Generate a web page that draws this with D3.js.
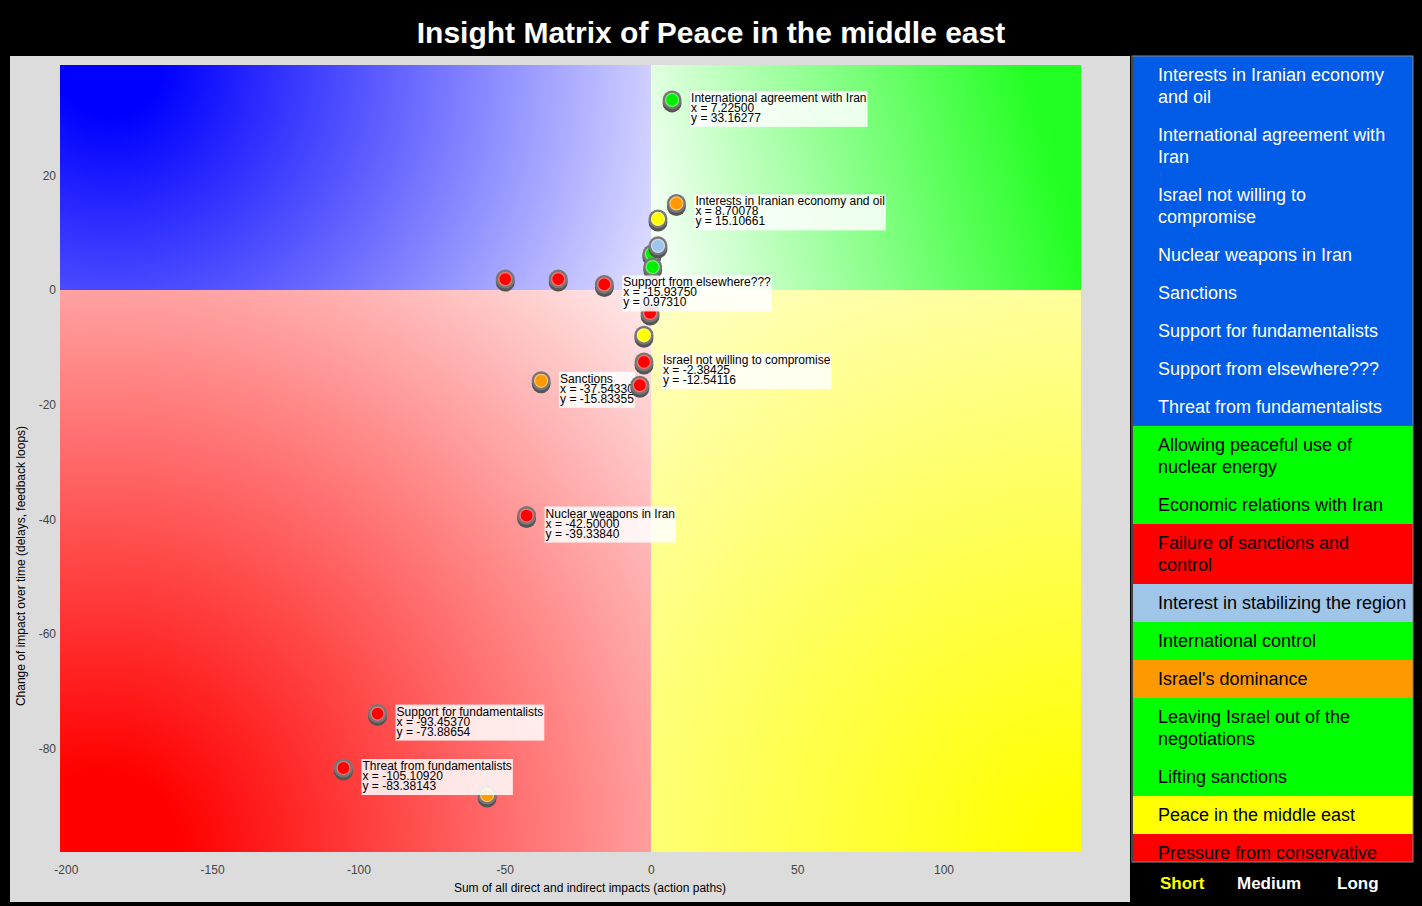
<!DOCTYPE html>
<html><head><meta charset="utf-8">
<script src="https://cdn.jsdelivr.net/npm/d3@7"></script>
<style>
html,body{margin:0;padding:0;background:#000;}
svg{display:block;}
text{font-family:"Liberation Sans",Arial,Helvetica,sans-serif;}
</style></head><body>
<svg id="chart" width="1422" height="906"></svg>
<script>
// ---------- data ----------
const title = "Insight Matrix of Peace in the middle east";
const xAxisLabel = "Sum of all direct and indirect impacts (action paths)";
const yAxisLabel = "Change of impact over time (delays, feedback loops)";
const xTicks = [-200, -150, -100, -50, 0, 50, 100];
const yTicks = [20, 0, -20, -40, -60, -80];
const xDomain = [-202, 147];
const yDomain = [-98.03, 39.25];

// points (draw order); label '' = no tooltip shown
const pointLabel = ["", "", "", "", "", "", "", "",
  "Threat from fundamentalists", "Support for fundamentalists", "Nuclear weapons in Iran",
  "Sanctions", "Israel not willing to compromise", "Support from elsewhere???",
  "", "Interests in Iranian economy and oil", "International agreement with Iran", ""];
const pointX = [-56.0, -49.8, -31.7, -0.3, -2.4, 0.3, 2.4, 0.6,
  -105.10920, -93.45370, -42.50000, -37.54330, -2.38425, -15.93750,
  2.4, 8.70078, 7.22500, -3.8];
const pointY = [-88.1, 1.9, 1.9, -4.0, -7.9, 6.3, 7.7, 4.0,
  -83.38143, -73.88654, -39.33840, -15.83355, -12.54116, 0.97310,
  12.4, 15.10661, 33.16277, -16.6];
const pointColor = ["#ff9900", "#ff0000", "#ff0000", "#ff0000", "#ffff00", "#00ee00", "#9fc5e8", "#00ee00",
  "#ff0000", "#ff0000", "#ff0000", "#ff9900", "#ff0000", "#ff0000",
  "#ffff00", "#ff9900", "#00ee00", "#ff0000"];

// legend
const legendItems = ["Interests in Iranian economy and oil", "International agreement with Iran",
  "Israel not willing to compromise", "Nuclear weapons in Iran", "Sanctions",
  "Support for fundamentalists", "Support from elsewhere???", "Threat from fundamentalists",
  "Allowing peaceful use of nuclear energy", "Economic relations with Iran",
  "Failure of sanctions and control", "Interest in stabilizing the region",
  "International control", "Israel's dominance", "Leaving Israel out of the negotiations",
  "Lifting sanctions", "Peace in the middle east", "Pressure from conservative forces"];
const legendColors = ["#005ce6", "#005ce6", "#005ce6", "#005ce6", "#005ce6", "#005ce6", "#005ce6", "#005ce6",
  "#00ff00", "#00ff00", "#ff0000", "#9fc5e8", "#00ff00", "#ff9900", "#00ff00", "#00ff00", "#ffff00", "#ff0000"];
const legendTextColors = ["#fff", "#fff", "#fff", "#fff", "#fff", "#fff", "#fff", "#fff",
  "#000", "#000", "#000", "#000", "#000", "#000", "#000", "#000", "#000", "#000"];
const horizons = ["Short", "Medium", "Long"];
const horizonColors = ["#ffff00", "#ffffff", "#ffffff"];

// ---------- drawing ----------
const svg = d3.select("#chart");
const W = 1422, H = 906;
svg.append("rect").attr("width", W).attr("height", H).attr("fill", "#000");

svg.append("text").attr("x", 711).attr("y", 43).attr("text-anchor", "middle")
  .attr("fill", "#fff").attr("font-weight", "bold").attr("font-size", 30)
  .text(title);

// grey panel
svg.append("rect").attr("x", 10).attr("y", 56).attr("width", 1120).attr("height", 846).attr("fill", "#dcdcdc");

const x = d3.scaleLinear().domain(xDomain).range([60, 1081]);
const y = d3.scaleLinear().domain(yDomain).range([852, 65]);

const defs = svg.append("defs");
function radial(id, cx, cy, r, stops) {
  const g = defs.append("radialGradient").attr("id", id).attr("gradientUnits", "userSpaceOnUse")
    .attr("cx", cx).attr("cy", cy).attr("fx", cx).attr("fy", cy).attr("r", r);
  stops.forEach(s => g.append("stop").attr("offset", s[0]).attr("stop-color", s[1]));
}
function linear(id, x1, y1, x2, y2, stops) {
  const g = defs.append("linearGradient").attr("id", id).attr("gradientUnits", "userSpaceOnUse")
    .attr("x1", x1).attr("y1", y1).attr("x2", x2).attr("y2", y2);
  stops.forEach(s => g.append("stop").attr("offset", s[0]).attr("stop-color", s[1]));
}
const x0 = x(0), y0 = y(0);
const xl = x(xDomain[0]), xr = x(xDomain[1]), yt = y(yDomain[1]), yb = y(yDomain[0]);
radial("gBlue", xl + 50, yt, 640, [[0, "#0000ff"], [0.08, "#0000ff"], [1, "#f8f8ff"]]);
linear("gGreen", xr - 20, yt + 40, x0, yt + 150, [[0, "#22ff22"], [0.05, "#22ff22"], [1, "#f4fff4"]]);
radial("gRed", xl + 40, yb, 810, [[0, "#ff0000"], [0.1, "#ff0000"], [1, "#fff4f4"]]);
radial("gYellow", xr, yb, 850, [[0, "#ffff00"], [0.05, "#ffff00"], [1, "#fffff4"]]);

const plot = svg.append("g");
plot.append("rect").attr("x", xl).attr("y", yt).attr("width", x0 - xl).attr("height", y0 - yt).attr("fill", "url(#gBlue)");
plot.append("rect").attr("x", x0).attr("y", yt).attr("width", xr - x0).attr("height", y0 - yt).attr("fill", "url(#gGreen)");
plot.append("rect").attr("x", xl).attr("y", y0).attr("width", x0 - xl).attr("height", yb - y0).attr("fill", "url(#gRed)");
plot.append("rect").attr("x", x0).attr("y", y0).attr("width", xr - x0).attr("height", yb - y0).attr("fill", "url(#gYellow)");

// axes (tick labels only)
const xAxis = d3.axisBottom(x).tickValues(xTicks).tickSize(0).tickPadding(0).tickFormat(d => String(d));
const gx = svg.append("g").attr("transform", `translate(0,${yb + 13})`).call(xAxis);
gx.select(".domain").remove();
gx.selectAll("text").attr("fill", "#444").attr("font-size", 12).attr("font-family", "Liberation Sans, Arial, sans-serif");
const yAxis = d3.axisLeft(y).tickValues(yTicks).tickSize(0).tickPadding(4).tickFormat(d => String(d));
const gy = svg.append("g").attr("transform", `translate(${xl},0)`).call(yAxis);
gy.select(".domain").remove();
gy.selectAll("text").attr("fill", "#444").attr("font-size", 12).attr("font-family", "Liberation Sans, Arial, sans-serif");

svg.append("text").attr("x", 590).attr("y", 892).attr("text-anchor", "middle")
  .attr("font-size", 12).attr("fill", "#000").text(xAxisLabel);
svg.append("text").attr("transform", "translate(25,566) rotate(-90)").attr("text-anchor", "middle")
  .attr("font-size", 12).attr("fill", "#000").text(yAxisLabel);

// points
const pts = pointX.map((v, i) => ({x: v, y: pointY[i], c: pointColor[i], label: pointLabel[i]}));
pts.forEach(p => {
  const g = plot.append("g").attr("transform", `translate(${x(p.x)},${y(p.y)})`);
  g.append("circle").attr("cy", 3).attr("r", 9.5).attr("fill", "#555");
  g.append("circle").attr("r", 9.5).attr("fill", "#777");
  g.append("circle").attr("r", 6.5).attr("fill", p.c)
    .attr("stroke", d3.interpolateRgb(p.c, "#ffffff")(0.45)).attr("stroke-width", 1.2);
  if (p.label) {
    const lg = g.append("g").attr("transform", "translate(18,-9)");
    const bg = lg.append("rect").attr("fill", "#fff").attr("fill-opacity", 0.85).attr("height", 36);
    const lines = [p.label, "x = " + p.x.toFixed(5), "y = " + p.y.toFixed(5)];
    let maxW = 0;
    lines.forEach((t, k) => {
      const tx = lg.append("text").attr("x", 1).attr("y", 11 + k * 10).attr("font-size", 12)
        .attr("fill", "#000").text(t);
      maxW = Math.max(maxW, tx.node().getComputedTextLength());
    });
    bg.attr("width", maxW + 2);
  }
});

// legend
const lgX = 1133, lgY = 56, lgW = 280, lgBottom = 862;
defs.append("clipPath").attr("id", "lgClip").append("rect")
  .attr("x", lgX).attr("y", lgY).attr("width", lgW).attr("height", lgBottom - lgY);
const legend = svg.append("g").attr("clip-path", "url(#lgClip)");
let cy = lgY;
const maxTextW = 250;
legendItems.forEach((name, i) => {
  if (cy >= lgBottom) return;
  const words = name.split(" ");
  const probe = legend.append("text").attr("font-size", 18);
  const lines = [];
  let cur = "";
  words.forEach(w => {
    const test = cur ? cur + " " + w : w;
    probe.text(test);
    if (probe.node().getComputedTextLength() > maxTextW && cur) { lines.push(cur); cur = w; }
    else cur = test;
  });
  lines.push(cur);
  probe.remove();
  const h = 38 + (lines.length - 1) * 22;
  legend.append("rect").attr("x", lgX).attr("y", cy).attr("width", lgW).attr("height", h).attr("fill", legendColors[i]);
  lines.forEach((l, k) => {
    const ty = cy + 25 + k * 22;
    if (ty - 14 < lgBottom) {
      legend.append("text").attr("x", 1158).attr("y", ty).attr("font-size", 18)
        .attr("fill", legendTextColors[i]).text(l);
    }
  });
  cy += h;
});
svg.append("rect").attr("x", lgX - 1).attr("y", lgY).attr("width", lgW + 1).attr("height", lgBottom - lgY)
  .attr("fill", "none").attr("stroke", "#888").attr("stroke-width", 1);

const hx = [1160, 1237, 1337];
horizons.forEach((h, i) => {
  svg.append("text").attr("x", hx[i]).attr("y", 889).attr("font-size", 17).attr("font-weight", "bold")
    .attr("fill", horizonColors[i]).text(h);
});
</script>
</body></html>
